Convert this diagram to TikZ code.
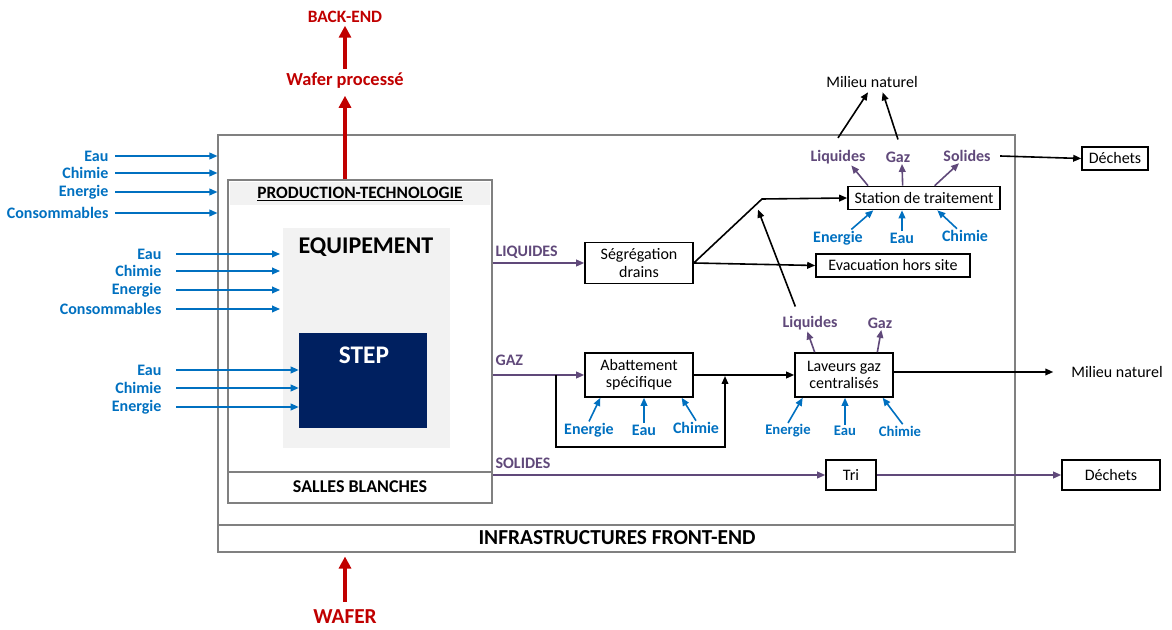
\documentclass[tikz,border=0pt]{standalone}
\usepackage{fontspec}
\setmainfont{Carlito}
\usetikzlibrary{arrows.meta,positioning}

\definecolor{flowblue}{RGB}{0,112,192}
\definecolor{flowpurple}{RGB}{96,73,122}
\definecolor{wafred}{RGB}{192,0,0}
\definecolor{stepnavy}{RGB}{0,32,96}
\definecolor{panelgray}{RGB}{242,242,242}
\newcommand{\pxu}{0.75pt}

\tikzset{
    inlab/.style={text=flowblue,font=\bfseries\fontsize{12}{14}\selectfont,inner sep=1pt},
    inarrow/.style={flowblue,line width=1.2pt,-{Triangle[length=6pt,width=5pt]}},
    flowlab/.style={text=flowpurple,font=\bfseries\fontsize{12}{14}\selectfont,inner sep=1pt},
    flowarrow/.style={flowpurple,line width=1.2pt,-{Triangle[length=6pt,width=5pt]}},
    blackarrow/.style={black,line width=1.2pt,-{Triangle[length=6pt,width=5pt]}},
    procbox/.style={draw,line width=1.2pt,fill=white,align=center,inner sep=1pt,font=\fontsize{12}{13}\selectfont},
    redlab/.style={text=wafred,font=\bfseries\fontsize{13}{15}\selectfont,inner sep=1pt},
    redarrow/.style={wafred,line width=2.6pt,-{Triangle[length=9pt,width=9pt]}}
}

\begin{document}
\begin{tikzpicture}[x=0.75pt,y=-0.75pt]
    \useasboundingbox (0,0) rectangle (1172,630);

    % infrastructure frame
    \node[draw=gray,thick,minimum width=797*\pxu,minimum height=417*\pxu,inner sep=0] (infra) at (616.5,343.5) {};
    \draw[gray,thick] (218,525) -- (1015,525);
    \node[font=\bfseries\fontsize{16}{18}\selectfont] (infra_lab) at (617,538) {INFRASTRUCTURES FRONT-END};

    % production box
    \node[draw=gray,thick,minimum width=264*\pxu,minimum height=323*\pxu,inner sep=0] (prod) at (360,341.5) {};
    \fill[panelgray] (230,182) rectangle (490,205);
    \node[font=\bfseries\fontsize{13}{15}\selectfont] (prod_lab) at (360,194) {\underline{PRODUCTION-TECHNOLOGIE}};
    \draw[gray,thick] (228,472) -- (492,472);
    \node[font=\bfseries\fontsize{13.5}{15}\selectfont] (salles) at (360,487) {SALLES BLANCHES};

    % equipement and step
    \node[fill=panelgray,minimum width=167*\pxu,minimum height=220*\pxu,inner sep=0] (equip) at (366.5,338) {};
    \node[font=\bfseries\fontsize{18}{20}\selectfont] (equip_lab) at (366,247) {EQUIPEMENT};
    \node[fill=stepnavy,minimum width=128*\pxu,minimum height=95*\pxu,inner sep=0] (step_box) at (363,380.5) {};
    \node[text=white,font=\bfseries\fontsize{19}{21}\selectfont] (step_lab) at (364,355) {STEP};

    % inputs
    \foreach \lab/\y [count=\i] in {Eau/156,Chimie/173,Energie/192,Consommables/213}
    {
        \node[inlab,anchor=east] (site_in\i) at (110,\y) {\lab};
        \draw[inarrow] ([xshift=4pt]site_in\i.east) -- (site_in\i.east -| infra.west);
    };
    \foreach \lab/\y [count=\i] in {Eau/254,Chimie/271,Energie/290,Consommables/309}
    {
        \node[inlab,anchor=east] (equip_in\i) at (163,\y) {\lab};
        \draw[inarrow] ([xshift=10pt]equip_in\i.east) -- ([xshift=-2pt]equip_in\i.east -| equip.west);
    };
    \foreach \lab/\y [count=\i] in {Eau/370,Chimie/388,Energie/407}
    {
        \node[inlab,anchor=east] (step_in\i) at (163,\y) {\lab};
        \draw[inarrow] ([xshift=10pt]step_in\i.east) -- (step_in\i.east -| step_box.west);
    };

    % wafer in and out
    \node[redlab,font=\bfseries\fontsize{13.8}{15}\selectfont] (wafer_out) at (345,81) {Wafer processé};
    \node[redlab] (backend) at (345,17) {BACK-END};
    \node[redlab,inner sep=0pt,font=\bfseries\fontsize{16}{18}\selectfont] (wafer) at (345,617) {WAFER};
    \draw[redarrow] (wafer_out.south |- prod.north) -- ([yshift=-4pt]wafer_out.south);
    \draw[redarrow] ([yshift=2pt]wafer_out.north) -- ([yshift=-1pt]backend.south);
    \draw[redarrow] ([yshift=6pt]wafer.north) -- ([yshift=-3pt]wafer.north |- infra.south);

    % liquides
    \node[flowlab,anchor=west] (liq_lab) at (494,252) {LIQUIDES};
    \node[procbox,minimum width=108*\pxu,minimum height=41*\pxu] (seg) at (639,263) {Ségrégation\\drains};
    \draw[flowarrow] (prod.east |- seg.west) -- (seg.west);
    \coordinate (liq_join) at (762,199);
    \node[procbox,minimum width=152*\pxu,minimum height=23*\pxu] (station) at (924,198) {Station de traitement};
    \node[procbox,minimum width=154*\pxu,minimum height=23*\pxu] (evac) at (893,265.5) {Evacuation hors site};
    \draw[blackarrow] (seg.east) -- (liq_join) -- (station.west);
    \draw[blackarrow] (seg.east) -- (evac.west);

    % station de traitement
    \node[flowlab] (st_liq) at (838,157) {Liquides};
    \node[flowlab] (st_gaz) at (898,157) {Gaz};
    \node[flowlab] (st_sol) at (967,156) {Solides};
    \draw[flowarrow] ([xshift=-42pt]station.north) -- ([xshift=10pt]st_liq.south);
    \draw[flowarrow] ([xshift=-16pt]station.north) -- ([xshift=3pt]st_gaz.south);
    \draw[flowarrow] ([xshift=8pt]station.north) -- ([xshift=-6pt]st_sol.south);
    \node (milieu_top) at (872,82) {\fontsize{12}{14}\selectfont Milieu naturel};
    \draw[blackarrow] ([yshift=8pt]st_liq.north) -- ([xshift=-3pt]milieu_top.south);
    \draw[blackarrow] ([yshift=8pt]st_gaz.north) -- ([xshift=8pt]milieu_top.south);
    \node[procbox,minimum width=66*\pxu,minimum height=23*\pxu] (dechets_top) at (1115,158.5) {Déchets};
    \draw[blackarrow] ([xshift=6pt]st_sol.east) -- (dechets_top.west);
    \node[inlab] (st_en) at (838,238) {Energie};
    \node[inlab] (st_eau) at (902,238) {Eau};
    \node[inlab] (st_chi) at (965,236) {Chimie};
    \draw[inarrow] ([xshift=10pt]st_en.north) -- ([xshift=-38pt]station.south);
    \draw[inarrow] (st_eau.north) -- (st_eau.north |- station.south);
    \draw[inarrow] ([xshift=-6pt]st_chi.north) -- ([xshift=10pt]station.south);

    % gaz
    \node[flowlab,anchor=west] (gaz_lab) at (494,360) {GAZ};
    \node[procbox,minimum width=108*\pxu,minimum height=44*\pxu] (abat) at (639,375) {Abattement\\spécifique};
    \node[procbox,minimum width=98*\pxu,minimum height=44*\pxu] (lav) at (844,375) {Laveurs gaz\\centralisés};
    \draw[flowarrow] (prod.east |- abat.west) -- (abat.west);
    \draw[blackarrow] (abat.east) -- (lav.west);
    \coordinate (gaz_split) at (556,375);
    \coordinate (bypass_low) at (725,447);
    \coordinate (bypass_in) at (725,376);
    \draw[blackarrow] (gaz_split) |- (bypass_low) -- (bypass_in);
    \node[inlab] (ab_en) at (589,430) {Energie};
    \node[inlab] (ab_eau) at (644,430) {Eau};
    \node[inlab] (ab_chi) at (696,428) {Chimie};
    \draw[inarrow] (ab_en.north) -- ([xshift=-29pt]abat.south);
    \draw[inarrow] (ab_eau.north) -- (ab_eau.north |- abat.south);
    \draw[inarrow] (ab_chi.north) -- ([xshift=32pt]abat.south);
    \node[inlab,font=\bfseries\fontsize{11}{13}\selectfont] (lav_en) at (788,431) {Energie};
    \node[inlab,font=\bfseries\fontsize{11}{13}\selectfont] (lav_eau) at (845,431) {Eau};
    \node[inlab,font=\bfseries\fontsize{11}{13}\selectfont] (lav_chi) at (900,431) {Chimie};
    \draw[inarrow] (lav_en.north) -- ([xshift=-31pt]lav.south);
    \draw[inarrow] (lav_eau.north) -- (lav_eau.north |- lav.south);
    \draw[inarrow] ([xshift=2pt]lav_chi.north) -- ([xshift=29pt]lav.south);
    \node[flowlab] (lav_liq) at (810,323) {Liquides};
    \node[flowlab] (lav_gaz) at (880,323) {Gaz};
    \draw[flowarrow] ([xshift=-22pt]lav.north) -- ([xshift=-2pt]lav_liq.south);
    \draw[flowarrow] ([xshift=25pt]lav.north) -- ([xshift=1pt]lav_gaz.south);
    \draw[blackarrow] ([xshift=-11pt,yshift=6pt]lav_liq.north) -- ([xshift=-3pt,yshift=-8pt]liq_join);
    \node (milieu_right) at (1117,372) {\fontsize{12}{14}\selectfont Milieu naturel};
    \draw[blackarrow] (lav.east |- milieu_right.west) -- ([xshift=-10pt]milieu_right.west);

    % solides
    \node[flowlab,anchor=west] (sol_lab) at (494,463) {SOLIDES};
    \node[procbox,minimum width=50*\pxu,minimum height=30*\pxu] (tri) at (851,475) {Tri};
    \node[procbox,minimum width=98*\pxu,minimum height=30*\pxu] (dechets_bot) at (1111,475) {Déchets};
    \draw[flowarrow] (prod.east |- tri.west) -- (tri.west);
    \draw[flowarrow] (tri.east) -- (dechets_bot.west);
\end{tikzpicture}
\end{document}
